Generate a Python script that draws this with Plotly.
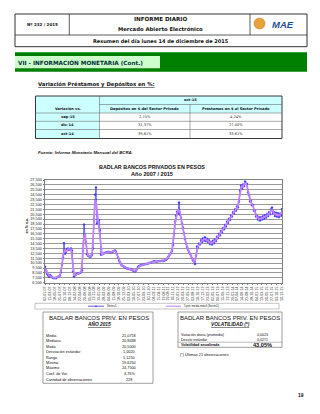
import plotly.graph_objects as go
import pandas as pd

W, H = 320, 414

# ---------------- data ----------------
start_date = "2007-01-02"
end_date = "2015-12-14"
badlar = [
    9.8, 9.0, 8.3, 8.0, 7.7, 8.1, 7.9, 7.6, 7.5, 7.4,
    7.5, 7.4, 7.6, 7.7, 7.8, 8.0, 8.6, 10.2, 11.6, 14.6,
    12.4, 12.8, 13.4, 13.5, 13.2, 13.4, 13.5, 13.1, 8.8, 7.7,
    8.0, 8.2, 8.3, 8.4, 8.4, 8.5, 8.6, 9.0, 13.0, 18.4,
    16.2, 14.8, 12.3, 12.0, 11.9, 11.8, 11.9, 12.2, 13.5, 19.5,
    24.5, 26.0, 18.6, 18.9, 19.3, 17.2, 12.2, 12.3, 12.4, 12.5,
    12.6, 12.7, 12.7, 12.8, 12.8, 12.7, 12.8, 12.7, 12.9, 13.0,
    13.1, 12.8, 12.3, 11.6, 11.0, 10.6, 10.2, 10.0, 9.9, 9.8,
    9.6, 9.5, 9.4, 9.4, 9.3, 9.3, 9.2, 9.1, 9.0, 8.9,
    8.8, 9.0, 9.3, 9.7, 9.9, 10.0, 10.1, 10.1, 10.2, 10.2,
    10.3, 10.3, 10.4, 10.4, 10.5, 10.6, 10.6, 10.7, 10.8, 10.9,
    10.9, 10.8, 10.8, 10.9, 10.9, 10.9, 10.9, 11.0, 10.9, 11.0,
    11.1, 11.2, 11.4, 11.7, 12.0, 12.3, 12.6, 13.0, 14.2, 16.5,
    19.0, 20.2, 21.0, 20.6, 22.9, 20.4, 19.8, 18.6, 17.8, 16.6,
    15.4, 14.5, 13.8, 13.2, 12.8, 12.4, 12.0, 11.5, 11.1, 10.8,
    10.3, 12.0, 13.9, 13.7, 14.5, 14.3, 15.2, 14.8, 15.6, 15.1,
    15.8, 15.0, 15.5, 14.8, 15.2, 14.4, 14.8, 14.3, 15.1, 14.6,
    15.4, 15.0, 15.9, 15.6, 16.5, 16.2, 17.1, 16.8, 17.7, 17.4,
    18.3, 18.0, 19.0, 18.7, 19.6, 19.3, 20.2, 20.0, 20.9, 20.6,
    21.5, 21.2, 22.1, 21.9, 23.1, 25.3, 26.4, 25.7, 26.6, 26.2,
    27.2, 26.8, 26.7, 25.0, 24.4, 23.1, 23.2, 22.3, 22.4, 21.2,
    21.2, 20.0, 20.2, 19.4, 19.9, 19.2, 19.9, 19.4, 20.1, 19.6,
    20.3, 19.8, 20.5, 20.1, 20.9, 20.5, 21.5, 21.9, 20.7, 20.9,
    20.1, 20.8, 20.0, 20.7, 19.9, 20.6, 20.2, 21.6,
]
dates = pd.date_range(start_date, end_date, periods=len(badlar))
moving_avg = pd.Series(badlar).rolling(3, center=True, min_periods=1).mean()

table_period = "oct-15"
table_header = ["Variación vs.", "Depósitos en $ del Sector Privado", "Préstamos en $ al Sector Privado"]
table_rows = ["sep-15", "dic-14", "oct-14"]
depositos = ["2,15%", "31,37%", "39,61%"]
prestamos = ["4,24%", "27,00%", "33,61%"]

stats_labels = ["Media", "Mediana", "Moda", "Desviación estándar", "Rango", "Mínimo",
                "Máximo", "Coef. de Var.", "Cantidad de observaciones"]
stats_values = ["21,0718", "20,8438", "20,5000", "1,0020", "5,1250", "19,6250",
                "24,7500", "4,76%", "228"]

vol_labels = ["Variación diaria (promedio)", "Desvío estándar", "Volatilidad anualizada"]
vol_values = ["0,0023", "0,0271", "43,05%"]

# ---------------- helpers ----------------
VER = "DejaVu Sans"
ARI = "Liberation Sans"
shapes = []
anns = []


def px(x):
    return x / W


def py(y):
    return 1 - y / H


def rect(x0, y0, x1, y1, fill=None, line="#333333", lw=0.8):
    shapes.append(dict(type="rect", xref="paper", yref="paper",
                       x0=px(x0), x1=px(x1), y0=py(y1), y1=py(y0),
                       fillcolor=fill if fill else "rgba(0,0,0,0)",
                       line=dict(color=line, width=lw) if lw > 0 else dict(width=0),
                       layer="below"))


def line(x0, y0, x1, y1, color="#333333", lw=0.8, dash="solid"):
    shapes.append(dict(type="line", xref="paper", yref="paper",
                       x0=px(x0), x1=px(x1), y0=py(y0), y1=py(y1),
                       line=dict(color=color, width=lw, dash=dash)))


def text(x, y, s, size, font=VER, color="#111111", anchor="center", angle=0):
    anns.append(dict(xref="paper", yref="paper", x=px(x), y=py(y), text=s,
                     showarrow=False, xanchor=anchor, yanchor="middle",
                     textangle=angle, borderpad=0,
                     font=dict(family=font, size=size, color=color)))


# ---------------- header ----------------
rect(15, 14, 307, 46.7, lw=1)
line(15, 35, 307, 35, lw=0.8)
line(69.3, 14, 69.3, 35)
line(250, 14, 250, 35)
text(42, 24.5, "<b>Nº 232 / 2015</b>", 4)
text(160, 19, "<b>INFORME DIARIO</b>", 5.6)
text(160, 29.5, "<b>Mercado Abierto Electrónico</b>", 5.3)
text(161, 41, "<b>Resumen del día lunes 14 de diciembre de 2015</b>", 5)
shapes.append(dict(type="circle", xref="paper", yref="paper",
                   x0=px(254), x1=px(265), y0=py(29), y1=py(18),
                   fillcolor="#e8a23a", line=dict(color="#c07820", width=0.5)))
text(283, 24, "<b><i>MAE</i></b>", 9.5, font=ARI, color="#1f4e9c")

# ---------------- section bar ----------------
rect(15, 52.3, 307, 71.7, fill="#008000", lw=0)
rect(15, 56, 160, 68.3, fill="#ccffcc", lw=0)
text(17, 62.2, "<b>VII - INFORMACIÓN MONETARIA (Cont.)</b>", 5.7, color="#003333", anchor="left")

text(37, 84.5, "<b><u>Variación Préstamos y Depósitos en %:</u></b>", 5.3, anchor="left")

# ---------------- table ----------------
cx = [35.5, 99.5, 190, 282]
ry = [96, 104.5, 113, 121.3, 129.5, 138.5]
cyan = "#ccffff"
rect(cx[0], ry[0], cx[3], ry[2], fill=cyan, lw=0)
for i in range(3):
    rect(cx[0], ry[2 + i], cx[1], ry[3 + i], fill=cyan, lw=0)
for y in ry[1:-1]:
    x_start = cx[1] if y == ry[1] else cx[0]
    line(x_start, y, cx[3], y, color="#555555", lw=0.5)
line(cx[1], ry[0], cx[1], ry[5], color="#555555", lw=0.5)
line(cx[2], ry[1], cx[2], ry[5], color="#555555", lw=0.5)
rect(cx[0], ry[0], cx[3], ry[5], line="#222222", lw=0.9)
tsz = 3.6
text((cx[1] + cx[3]) / 2, (ry[0] + ry[1]) / 2, "<b>" + table_period + "</b>", tsz)
for j in range(3):
    text((cx[j] + cx[j + 1]) / 2, (ry[1] + ry[2]) / 2, "<b>" + table_header[j] + "</b>", tsz)
for i in range(3):
    yc = (ry[2 + i] + ry[3 + i]) / 2
    text((cx[0] + cx[1]) / 2, yc, "<b>" + table_rows[i] + "</b>", tsz)
    text((cx[1] + cx[2]) / 2, yc, depositos[i], tsz, color="#333333")
    text((cx[2] + cx[3]) / 2, yc, prestamos[i], tsz, color="#333333")

text(37, 152.7, "<b><i>Fuente: Informe Monetario Mensual del BCRA.</i></b>", 4.3, font=ARI, anchor="left")

# ---------------- chart texts ----------------
text(152, 167.3, "<b>BADLAR BANCOS PRIVADOS EN PESOS</b>", 5.4, font=ARI)
text(152, 174.2, "<b>Año 2007 / 2015</b>", 5.6, font=ARI)
text(26.5, 226, "<b>en % n.a.</b>", 3.6, font=ARI, angle=-90)

# legend box
rect(35, 303.3, 279, 309, line="#888888", lw=0.5)
line(88, 306.2, 104, 306.2, color="#3333ff", lw=0.8)
shapes.append(dict(type="path", xref="paper", yref="paper",
                   path="M {} {} L {} {} L {} {} L {} {} Z".format(
                       px(96), py(305.2), px(97), py(306.2), px(96), py(307.2), px(95), py(306.2)),
                   fillcolor="#3333ff", line=dict(width=0)))
text(106, 306.3, "Series1", 2.8, font=ARI, anchor="left")
line(166, 306.2, 181, 306.2, color="#c080ff", lw=1)
text(183, 306.3, "5 per. media móvil (Series1)", 2.8, font=ARI, anchor="left")

# ---------------- stats boxes ----------------
rect(43, 312, 153, 383.3, line="#777777", lw=0.7)
text(98.5, 317.7, "BADLAR BANCOS PRIV. EN PESOS", 6, font=ARI)
text(98.5, 324.4, "<b><i><u>AÑO 2015</u></i></b>", 4.8, font=ARI)
for i, (lab, val) in enumerate(zip(stats_labels, stats_values)):
    yy = 336 + 5.4 * i if i < 8 else 380.3
    text(44.5, yy, lab, 3.8, font=ARI, anchor="left")
    text(129, yy, val, 3.8, font=ARI)

rect(178, 312, 282, 347.3, line="#777777", lw=0.7)
text(230, 317.7, "BADLAR BANCOS PRIV. EN PESOS", 6, font=ARI)
text(230, 324.4, "<b><i><u>VOLATILIDAD (*)</u></i></b>", 4.8, font=ARI)
vy = [334.5, 339.6, 345]
for i, (lab, val) in enumerate(zip(vol_labels, vol_values)):
    if i == 2:
        text(179.5, vy[i], "<b>" + lab + "</b>", 3.7, font=ARI, anchor="left")
        text(262, vy[i], "<b>" + val + "</b>", 5.6, font=ARI)
    else:
        text(179.5, vy[i], lab, 3.6, font=ARI, anchor="left")
        text(262, vy[i], val, 3.6, font=ARI)
line(178, 342.2, 282, 342.2, color="#777777", lw=0.5)
text(179, 354.5, "(*) Últimas 21 observaciones", 3.8, font=ARI, anchor="left")

text(301, 395, "<b>19</b>", 5, font=ARI)

# ---------------- figure ----------------
fig = go.Figure()
fig.add_trace(go.Scatter(x=dates, y=badlar, mode="lines+markers", name="Series1",
                         line=dict(color="#3a3aff", width=0.8),
                         marker=dict(symbol="diamond", size=2.2, color="#3a3aff"),
                         hoverinfo="skip"))
fig.add_trace(go.Scatter(x=dates, y=moving_avg, mode="lines",
                         name="5 per. media móvil (Series1)",
                         line=dict(color="#c080ff", width=1.8), hoverinfo="skip"))

fig.update_layout(
    width=W, height=H, margin=dict(l=0, r=0, t=0, b=0),
    paper_bgcolor="white", plot_bgcolor="white",
    showlegend=False, separators=",.",
    shapes=shapes, annotations=anns,
    xaxis=dict(type="date", domain=[45 / W, 282 / W],
               range=[dates[0], dates[-1]],
               tick0=start_date, dtick=68 * 86400000, tickformat="%d-%m-%y",
               tickangle=-90, tickfont=dict(family=ARI, size=3.6, color="#222222"),
               showgrid=False, showline=True, linecolor="#808080", linewidth=0.7,
               mirror=True, ticks="outside", ticklen=1.5, tickcolor="#808080",
               automargin=False, zeroline=False),
    yaxis=dict(domain=[1 - 282.7 / H, 1 - 180 / H], range=[6.5, 27.5],
               tick0=6.5, dtick=1, tickformat=".3f",
               tickfont=dict(family=ARI, size=3.8, color="#222222"),
               showgrid=True, gridcolor="#999999", gridwidth=0.6,
               showline=True, linecolor="#808080", linewidth=0.7, mirror=True,
               ticks="outside", ticklen=1.5, tickcolor="#808080",
               automargin=False, zeroline=False),
)

fig.write_html("out.html")
